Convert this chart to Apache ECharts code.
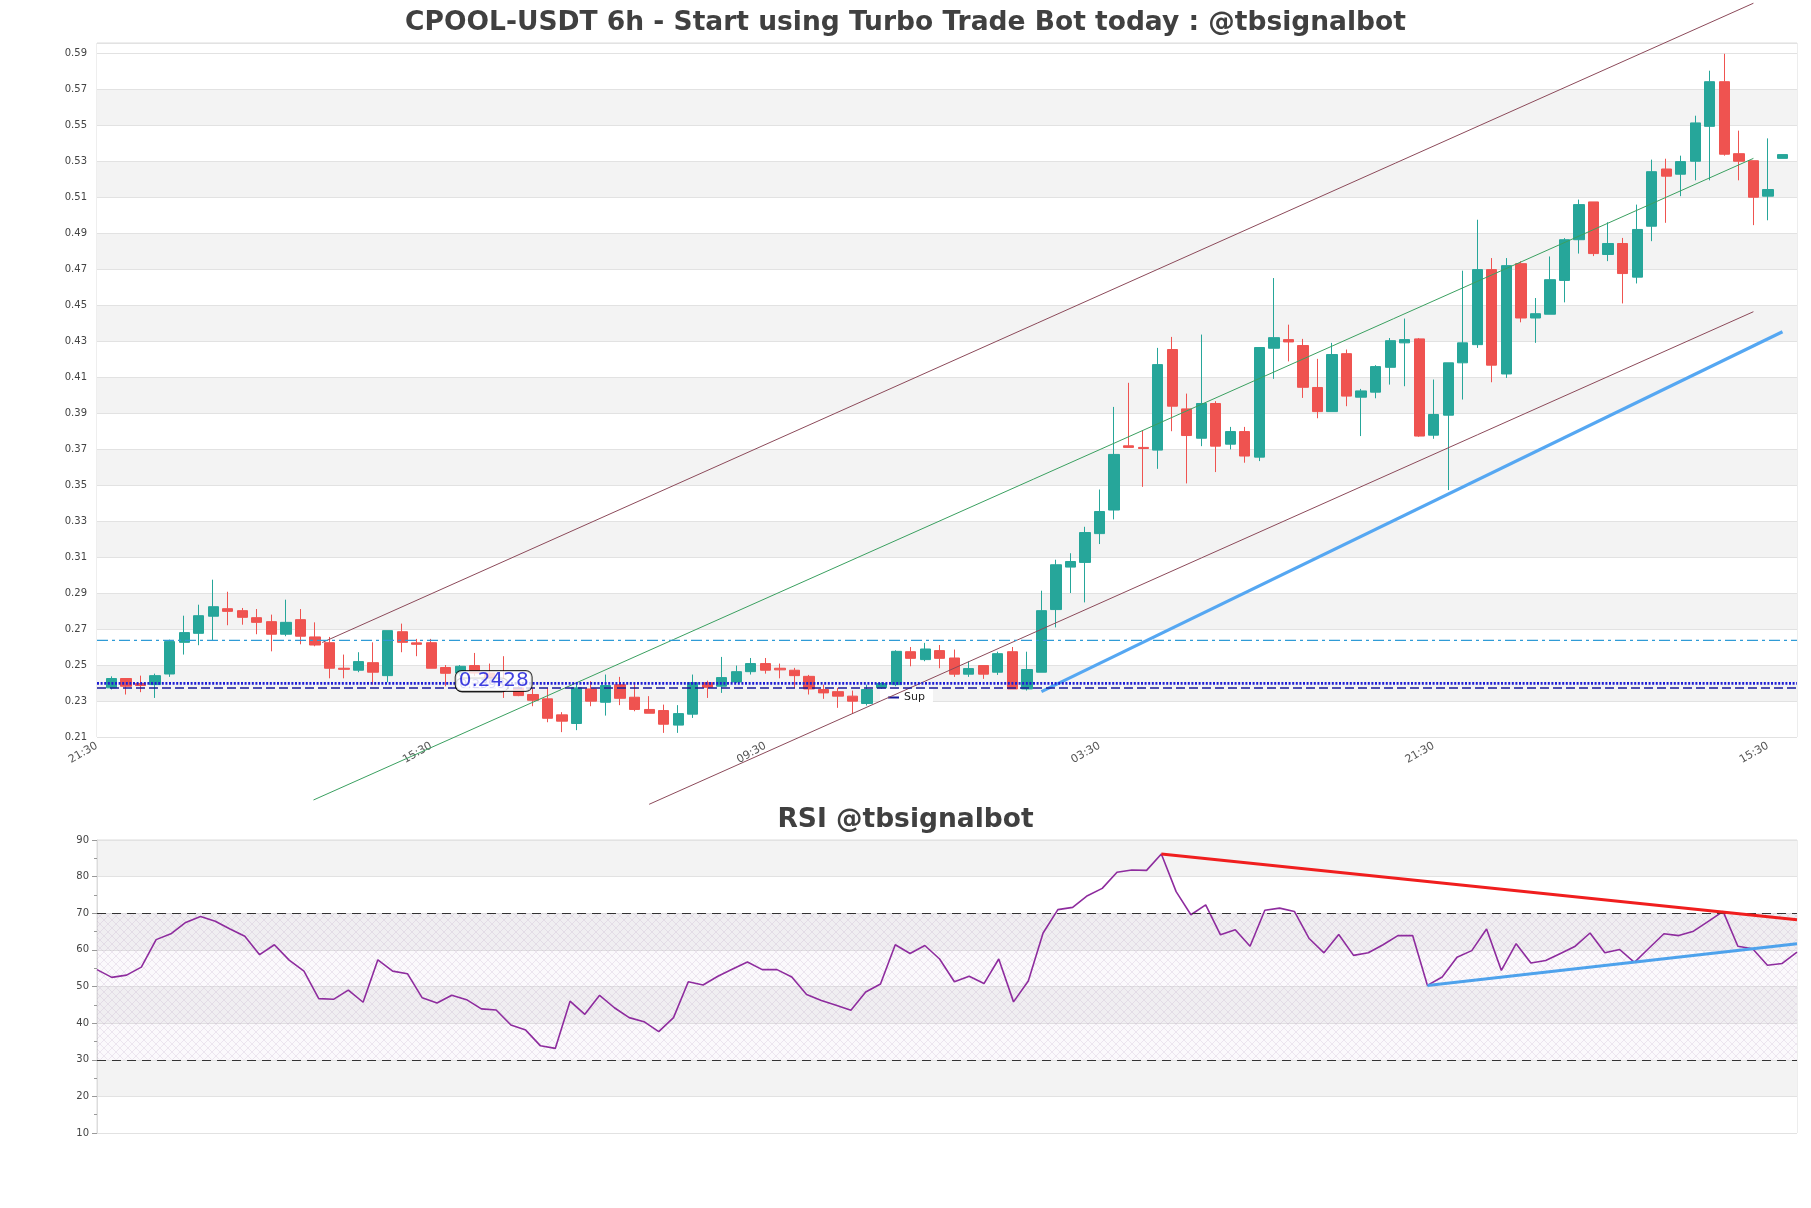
<!DOCTYPE html>
<html><head><meta charset="utf-8">
<script src="https://cdn.jsdelivr.net/npm/echarts@6/dist/echarts.min.js"></script>
<style>html,body{margin:0;padding:0;background:#fff}#c{width:1811px;height:1208px}</style>
</head><body><div id="c"></div>
<script>
// ---------- data ----------
const xTickLabels = ['21:30','15:30','09:30','03:30','21:30','15:30'];
const opens = [0.2373,0.2425,0.2397,0.2391,0.2450,0.2626,0.2676,0.2771,0.2813,0.2802,0.2763,0.2741,0.2671,0.2752,0.2656,0.2624,0.2482,0.2471,0.2513,0.2441,0.2685,0.2623,0.2624,0.2486,0.2456,0.2497,0.2455,0.2400,0.2373,0.2336,0.2312,0.2223,0.2175,0.2367,0.2293,0.2391,0.2321,0.2253,0.2247,0.2166,0.2227,0.2402,0.2382,0.2406,0.2463,0.2508,0.2482,0.2471,0.2437,0.2364,0.2352,0.2327,0.2286,0.2373,0.2391,0.2574,0.2530,0.2580,0.2539,0.2449,0.2497,0.2460,0.2574,0.2367,0.2460,0.2808,0.3044,0.3070,0.3230,0.3361,0.3718,0.3709,0.3694,0.4253,0.3923,0.3760,0.3953,0.3727,0.3797,0.3655,0.4260,0.4308,0.4275,0.4042,0.3908,0.4230,0.3988,0.4016,0.4154,0.4290,0.4312,0.3777,0.3888,0.4179,0.4280,0.4697,0.4117,0.4730,0.4428,0.4449,0.4637,0.4863,0.5073,0.4781,0.4842,0.4655,0.4938,0.5256,0.5227,0.5299,0.5493,0.5741,0.5341,0.5302,0.5105,0.5315];
const closes = [0.2425,0.2382,0.2386,0.2441,0.2630,0.2680,0.2774,0.2824,0.2798,0.2765,0.2737,0.2671,0.2737,0.2660,0.2611,0.2482,0.2476,0.2519,0.2460,0.2691,0.2626,0.2615,0.2482,0.2454,0.2493,0.2455,0.2400,0.2385,0.2330,0.2304,0.2204,0.2188,0.2373,0.2299,0.2386,0.2315,0.2253,0.2232,0.2171,0.2230,0.2402,0.2376,0.2430,0.2463,0.2508,0.2471,0.2473,0.2441,0.2367,0.2345,0.2327,0.2299,0.2364,0.2397,0.2576,0.2537,0.2589,0.2537,0.2449,0.2480,0.2449,0.2563,0.2367,0.2475,0.2802,0.3057,0.3075,0.3236,0.3353,0.3670,0.3709,0.3703,0.4169,0.3938,0.3775,0.3953,0.3716,0.3797,0.3661,0.4264,0.4319,0.4295,0.4043,0.3908,0.4225,0.3994,0.4023,0.4158,0.4302,0.4308,0.3772,0.3892,0.4179,0.4290,0.4697,0.4166,0.4719,0.4428,0.4452,0.4641,0.4863,0.5058,0.4786,0.4842,0.4675,0.4920,0.5241,0.5216,0.5297,0.5512,0.5741,0.5338,0.5299,0.5099,0.5142,0.5336];
const lows = [0.2364,0.2336,0.2349,0.2317,0.2434,0.2558,0.2610,0.2639,0.2721,0.2724,0.2671,0.2576,0.2660,0.2615,0.2604,0.2426,0.2426,0.2460,0.2391,0.2404,0.2571,0.2549,0.2482,0.2382,0.2440,0.2440,0.2385,0.2317,0.2327,0.2271,0.2182,0.2127,0.2138,0.2271,0.2219,0.2277,0.2243,0.2232,0.2123,0.2123,0.2206,0.2317,0.2345,0.2400,0.2447,0.2452,0.2426,0.2373,0.2336,0.2312,0.2262,0.2228,0.2275,0.2364,0.2382,0.2493,0.2521,0.2482,0.2434,0.2434,0.2423,0.2445,0.2367,0.2358,0.2460,0.2709,0.2900,0.2848,0.3172,0.3309,0.3709,0.3490,0.3590,0.3799,0.3509,0.3716,0.3572,0.3698,0.3624,0.3633,0.4090,0.4187,0.3984,0.3871,0.3908,0.3938,0.3772,0.3982,0.4058,0.4049,0.3768,0.3757,0.3472,0.3975,0.4262,0.4071,0.4095,0.4404,0.4290,0.4449,0.4515,0.4786,0.4772,0.4744,0.4509,0.4620,0.4855,0.4957,0.5105,0.5193,0.5193,0.5330,0.5193,0.4944,0.4971,0.5315];
const highs = [0.2437,0.2425,0.2441,0.2452,0.2641,0.2774,0.2835,0.2974,0.2907,0.2817,0.2811,0.2780,0.2863,0.2811,0.2737,0.2656,0.2558,0.2571,0.2626,0.2691,0.2730,0.2645,0.2645,0.2500,0.2500,0.2567,0.2508,0.2549,0.2386,0.2373,0.2373,0.2238,0.2404,0.2410,0.2447,0.2434,0.2400,0.2327,0.2280,0.2277,0.2447,0.2413,0.2545,0.2497,0.2539,0.2539,0.2508,0.2484,0.2445,0.2391,0.2373,0.2358,0.2391,0.2404,0.2582,0.2600,0.2623,0.2611,0.2586,0.2521,0.2497,0.2574,0.2600,0.2574,0.2913,0.3085,0.3121,0.3268,0.3475,0.3934,0.4068,0.3805,0.4262,0.4323,0.4008,0.4336,0.3966,0.3823,0.3823,0.4264,0.4650,0.4391,0.4312,0.4201,0.4290,0.4253,0.4034,0.4166,0.4317,0.4425,0.4317,0.4086,0.4179,0.4691,0.4974,0.4761,0.4761,0.4743,0.4539,0.4770,0.4872,0.5086,0.5073,0.4960,0.4873,0.5058,0.5308,0.5313,0.5330,0.5552,0.5802,0.5896,0.5469,0.5302,0.5426,0.5336];
const rsiValues = [54.6,52.5,53.1,55.3,62.8,64.4,67.5,69.1,67.8,65.7,63.7,58.7,61.4,57.2,54.2,46.7,46.5,49.0,45.7,57.3,54.2,53.5,46.9,45.5,47.6,46.4,43.9,43.6,39.5,38.1,33.8,33.1,46.0,42.4,47.6,44.2,41.5,40.4,37.7,41.5,51.3,50.4,52.8,54.8,56.7,54.6,54.6,52.6,47.8,46.2,44.9,43.5,48.5,50.7,61.4,59.0,61.2,57.5,51.3,52.8,50.8,57.5,45.8,51.5,64.6,71.0,71.6,74.8,76.8,81.2,81.8,81.7,86.2,75.9,69.6,72.3,64.1,65.5,61.0,70.8,71.4,70.5,63.1,59.2,64.2,58.5,59.2,61.4,63.9,63.9,50.3,52.6,58.0,59.8,65.7,54.4,61.7,56.4,57.1,59.0,61.0,64.6,59.2,60.1,56.6,60.5,64.4,63.9,65.1,67.8,70.5,61.0,60.3,55.8,56.3,59.4];
const resistanceLevel = 0.2637;
const pivotLevel = 0.2398;
const supportLevel = 0.2372;
const channelUpper = [[14.5, 0.2625], [113, 0.6177]];
const channelMid   = [[13.9, 0.1750], [113, 0.5315]];
const channelLower = [[37, 0.1726], [113, 0.4463]];
const trendBlue    = [[64, 0.2352], [115, 0.4352]];
const priceTag = {text: '0.2428', at: [26.3, 0.2411]};
const priceTagBack = {text: '0.2398', at: [25.5, 0.2389]};
const rsiDownTrend = [[72, 86.2], [115, 68.2]];
const rsiUpTrend   = [[90, 50.3], [115, 61.7]];
const rsiBands = [30, 70];

// ---------- build ----------
const N = opens.length;
const slots = [];
for (let i = 0; i < N + 2; i++) slots.push(String(i));
const candleData = opens.map((o, k) => [k + 1, o, closes[k], lows[k], highs[k]]);
const rsiData = rsiValues.map((v, j) => [j, v]);

function hatch() {
  const c = document.createElement('canvas');
  c.width = 8; c.height = 8;
  const g = c.getContext('2d');
  g.fillStyle = 'rgba(200,180,215,0.08)';
  g.fillRect(0, 0, 8, 8);
  g.strokeStyle = 'rgba(165,140,185,0.26)';
  g.lineWidth = 0.7;
  g.beginPath();
  g.moveTo(0, 0); g.lineTo(8, 8);
  g.moveTo(8, 0); g.lineTo(0, 8);
  g.stroke();
  return c;
}

const FONT = 'DejaVu Sans';
const bandColors = [];
for (let i = 0; i < 20; i++) bandColors.push(i % 2 === 0 || i === 19 ? '#ffffff' : '#f3f3f3');
const chart = echarts.init(document.getElementById('c'), null, {renderer: 'canvas'});
const hLine = (name, v, color, width, type, z) => ({
  name, type: 'line', xAxisIndex: 1, yAxisIndex: 0, data: [[-1, v], [N, v]],
  symbol: 'none', silent: true, z: z || 5,
  lineStyle: {color, width, type}, itemStyle: {color}
});
const segLine = (data, color, width, z) => ({
  type: 'line', xAxisIndex: 1, yAxisIndex: 0, data, symbol: 'none', clip: false,
  silent: true, z: z || 4, lineStyle: {color, width}, itemStyle: {color}
});
const tag = (t, fs, z) => ({
  type: 'scatter', xAxisIndex: 1, yAxisIndex: 0, data: [t.at], symbolSize: 1, z,
  itemStyle: {color: 'rgba(0,0,0,0)'}, silent: true,
  label: {show: true, position: 'inside', formatter: t.text, fontSize: fs, fontFamily: FONT,
    color: '#0f0fd8', backgroundColor: '#fff', borderColor: '#000', borderWidth: 1,
    borderRadius: 6, padding: [0, 3]}
});

chart.setOption({
  animation: false,
  backgroundColor: '#fff',
  textStyle: {fontFamily: FONT},
  title: [
    {text: 'CPOOL-USDT 6h - Start using Turbo Trade Bot today : @tbsignalbot', left: 'center', top: 10, padding: 0,
     textStyle: {fontSize: 26.5, fontWeight: 'bold', color: '#404040', fontFamily: FONT}},
    {text: 'RSI @tbsignalbot', left: 'center', top: 807, padding: 0,
     textStyle: {fontSize: 26.5, fontWeight: 'bold', color: '#404040', fontFamily: FONT}}
  ],
  legend: {data: ['Sup'], left: 880, top: 689, backgroundColor: '#fff', padding: [3, 8],
    icon: 'rect', itemWidth: 11, itemHeight: 2, textStyle: {fontSize: 11, color: '#222', fontFamily: FONT}},
  grid: [
    {left: 97, right: 14, top: 43, height: 694, show: true, borderColor: '#dcdcdc', borderWidth: 1, backgroundColor: 'transparent'},
    {left: 97, right: 14, top: 840, height: 293, show: true, borderColor: '#dcdcdc', borderWidth: 1}
  ],
  xAxis: [
    {type: 'category', gridIndex: 0, data: slots, boundaryGap: false,
     axisLine: {show: false}, axisTick: {show: false}, splitLine: {show: false},
     axisLabel: {interval: 22, rotate: 30, fontSize: 11, color: '#555', margin: 8,
       formatter: (v, i) => xTickLabels[Math.round(i / 23)] || ''}},
    {type: 'value', gridIndex: 0, min: -1, max: N, show: false},
    {type: 'value', gridIndex: 1, min: 0, max: N - 1, show: false}
  ],
  yAxis: [
    {type: 'value', gridIndex: 0, min: 0.21, max: 0.5956, interval: 0.02, position: 'left',
     axisLine: {show: false}, axisTick: {show: false},
     axisLabel: {fontSize: 10, color: '#444', margin: 10, showMaxLabel: false, formatter: v => v.toFixed(2)},
     splitLine: {show: true, lineStyle: {color: '#e2e2e2', width: 1}},
     splitArea: {show: true, areaStyle: {color: bandColors}}},
    {type: 'value', gridIndex: 1, min: 10, max: 90, interval: 10,
     axisLine: {show: true, lineStyle: {color: '#dcdcdc'}},
     axisTick: {show: true, length: 5, lineStyle: {color: '#999'}},
     minorTick: {show: true, splitNumber: 2, length: 3, lineStyle: {color: '#999'}},
     axisLabel: {fontSize: 10, color: '#444', margin: 8},
     splitLine: {show: true, lineStyle: {color: '#e2e2e2'}},
     splitArea: {show: true, areaStyle: {color: ['#ffffff', '#f3f3f3']}}}
  ],
  series: [
    {name: 'price', type: 'candlestick', xAxisIndex: 0, yAxisIndex: 0, data: candleData,
     encode: {x: 0, y: [1, 2, 3, 4]}, barWidth: '74%', z: 3,
     itemStyle: {color: '#26a69a', color0: '#ef5350', borderColor: '#26a69a', borderColor0: '#ef5350', borderWidth: 1}},
    hLine('res', resistanceLevel, '#2f9bd6', 1.2, [11, 4, 3, 4], 5),
    hLine('piv', pivotLevel, '#1c1cd6', 2.6, [2, 1.6], 6),
    hLine('Sup', supportLevel, '#1a1a9a', 1.5, [9, 4], 6),
    segLine(channelUpper, '#8c4a5a', 1),
    segLine(channelMid, '#3aa060', 1),
    segLine(channelLower, '#8c4a5a', 1),
    segLine(trendBlue, '#55a7f2', 3.2, 5),
    tag(priceTagBack, 13, 20),
    tag(priceTag, 20, 21),
    {name: 'RSI', type: 'line', xAxisIndex: 2, yAxisIndex: 1, data: rsiData, symbol: 'none',
     lineStyle: {color: '#8e2c9e', width: 1.6}, itemStyle: {color: '#8e2c9e'}, z: 4,
     markArea: {silent: true, itemStyle: {color: {image: hatch(), repeat: 'repeat'}},
       data: [[{yAxis: rsiBands[0]}, {yAxis: rsiBands[1]}]]},
     markLine: {silent: true, symbol: 'none', label: {show: false},
       lineStyle: {color: '#333', type: [9, 6], width: 1.2},
       data: [{yAxis: rsiBands[1]}, {yAxis: rsiBands[0]}]}},
    {type: 'line', xAxisIndex: 2, yAxisIndex: 1, data: rsiDownTrend, symbol: 'none', z: 5,
     lineStyle: {color: '#f01e1e', width: 3}},
    {type: 'line', xAxisIndex: 2, yAxisIndex: 1, data: rsiUpTrend, symbol: 'none', z: 5,
     lineStyle: {color: '#4ea2ec', width: 3}}
  ]
});
</script></body></html>
